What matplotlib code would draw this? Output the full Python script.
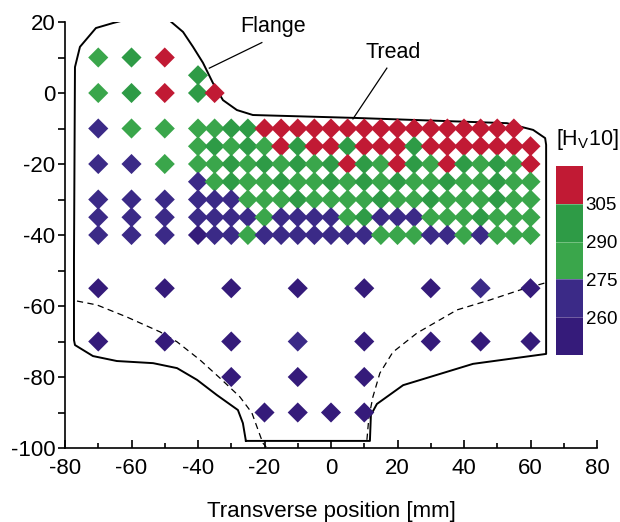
import matplotlib
matplotlib.use("Agg")
import matplotlib.pyplot as plt
import matplotlib as mpl
from matplotlib.colors import ListedColormap, BoundaryNorm
import numpy as np

plt.rcParams["font.family"] = ["Liberation Sans", "DejaVu Sans"]
plt.rcParams["mathtext.fontset"] = "custom"
plt.rcParams["mathtext.rm"] = "Liberation Sans"
plt.rcParams["mathtext.it"] = "Liberation Sans"
plt.rcParams["axes.unicode_minus"] = False

# hardness bands [HV10]
levels = [245, 260, 275, 290, 305, 320]
band_colors = ["#351b7a", "#3b2a87", "#3aa64b", "#2e9b46", "#c11a34"]
cbar_ticks = [260, 275, 290, 305]

# dense grid under the tread, x = -40 ... 60 step 5
dense_x = [-40, -35, -30, -25, -20, -15, -10, -5, 0, 5, 10,
           15, 20, 25, 30, 35, 40, 45, 50, 55, 60]
dense_rows = {
    -10: [283, 284, 297, 296, 312, 313, 311, 312, 314, 312, 311,
          312, 313, 312, 311, 312, 313, 312, 311, 312],
    -15: [283, 297, 284, 296, 283, 312, 297, 312, 311, 296, 312,
          313, 311, 297, 312, 311, 313, 312, 311, 312, 313],
    -20: [283, 284, 297, 283, 296, 284, 297, 283, 296, 312, 297,
          284, 312, 296, 283, 312, 297, 284, 296, 283, 312],
    -25: [268, 283, 296, 284, 283, 297, 283, 284, 296, 283, 297,
          283, 296, 284, 283, 297, 283, 284, 296, 283, 284],
    -30: [268, 267, 268, 283, 284, 283, 296, 283, 284, 283, 283,
          296, 283, 284, 297, 283, 284, 283, 296, 283, 284],
    -35: [268, 267, 268, 267, 283, 268, 267, 268, 267, 283, 296,
          268, 267, 268, 283, 284, 283, 296, 283, 284, 283],
    -40: [255, 268, 267, 283, 268, 267, 268, 267, 268, 267, 268,
          283, 284, 283, 268, 267, 283, 268, 283, 284, 283],
}

# scattered points (flange side and web)
sparse_x = [-70, -70, -70, -70, -70, -70, -70,
            -60, -60, -60, -60, -60, -60, -60,
            -50, -50, -50, -50, -50, -50, -50,
            -40, -40, -35,
            -70, -50, -30, -10, 10, 30, 45, 60,
            -70, -50, -30, -10, 10, 30, 45, 60,
            -30, -10, 10,
            -20, -10, 0, 10]
sparse_y = [10, 0, -10, -20, -30, -35, -40,
            10, 0, -10, -20, -30, -35, -40,
            10, 0, -10, -20, -30, -35, -40,
            5, 0, 0,
            -55, -55, -55, -55, -55, -55, -55, -55,
            -70, -70, -70, -70, -70, -70, -70, -70,
            -80, -80, -80,
            -90, -90, -90, -90]
sparse_hv = [283, 284, 268, 267, 268, 267, 268,
             297, 296, 283, 267, 268, 267, 268,
             312, 311, 284, 283, 268, 267, 268,
             297, 296, 312,
             258, 257, 258, 257, 258, 257, 266, 258,
             257, 258, 257, 266, 257, 258, 257, 258,
             257, 258, 257,
             258, 257, 258, 257]

# wheel profile outline
outline_x = [-25.6, -26.5, -28.0, -34.3, -40.3, -46.3, -53.5, -64.4, -71.6,
             -77.0, -77.3, -77.3, -77.0, -75.5, -70.7, -65.6, -59.8, -53.8,
             -48.4, -44.5, -41.5, -38.5, -35.5, -32.5, -28.3, -23.5, 6.6,
             52.9, 60.8, 64.4, 64.7, 64.7, 42.7, 21.7, 13.8, 12.0, 11.7, -25.6]
outline_y = [-98.0, -93.0, -89.3, -85.1, -80.8, -77.5, -76.1, -75.5, -74.1,
             -71.0, -69.6, -47.0, 7.3, 13.0, 18.3, 19.7, 21.1, 21.4,
             20.3, 17.2, 13.0, 8.5, 2.8, -2.0, -4.8, -6.2, -7.0,
             -8.5, -10.4, -12.7, -14.6, -73.5, -76.3, -82.3, -87.6, -90.7, -98.0, -98.0]

dash_left_x = [-76.4, -70.4, -61.4, -51.4, -46.3, -39.4, -33.4, -27.4, -23.8, -20.5, -19.5]
dash_left_y = [-58.6, -59.7, -63.1, -67.3, -70.1, -75.2, -80.3, -85.6, -90.1, -98.6, -99.7]
dash_right_x = [10.8, 11.4, 12.6, 14.7, 18.6, 25.9, 37.9, 47.8, 56.8, 64.4]
dash_right_y = [-97.7, -91.3, -85.6, -78.9, -73.0, -67.6, -61.1, -58.3, -55.5, -53.5]


def plot_hardness_map():
    fig = plt.figure(figsize=(6.2, 5.22), dpi=100)
    ax = fig.add_axes([65 / 620, 74 / 522, 532 / 620, 426 / 522])

    cmap = ListedColormap(band_colors)
    norm = BoundaryNorm(levels, cmap.N)

    # collect all measurement points
    xs = list(sparse_x)
    ys = list(sparse_y)
    hv = list(sparse_hv)
    for y, row in dense_rows.items():
        for x, v in zip(dense_x, row):
            xs.append(x)
            ys.append(y)
            hv.append(v)

    ax.plot(outline_x, outline_y, color="black", lw=1.4, zorder=1)
    ax.plot(dash_left_x, dash_left_y, color="black", lw=0.9, ls=(0, (5, 3.5)), zorder=1)
    ax.plot(dash_right_x, dash_right_y, color="black", lw=0.9, ls=(0, (5, 3.5)), zorder=1)

    ax.scatter(xs, ys, c=hv, cmap=cmap, norm=norm, marker="D", s=105,
               linewidths=0, zorder=3)

    # annotations
    ax.plot([-20.8, -36.6], [14.2, 7.0], color="black", lw=0.9)
    ax.text(-17.4, 18.6, "Flange", fontsize=15.5, ha="center", va="center")
    ax.plot([16.8, 6.6], [7.0, -7.3], color="black", lw=0.9)
    ax.text(18.6, 11.5, "Tread", fontsize=15.5, ha="center", va="center")

    ax.set_xlim(-80, 80)
    ax.set_ylim(-100, 20)
    ax.set_xticks(np.arange(-80, 81, 20))
    ax.set_xticks(np.arange(-70, 80, 20), minor=True)
    ax.set_yticks(np.arange(-100, 21, 20))
    ax.set_yticks(np.arange(-90, 20, 20), minor=True)
    ax.spines["top"].set_visible(False)
    ax.spines["right"].set_visible(False)
    ax.spines["left"].set_linewidth(1.2)
    ax.spines["bottom"].set_linewidth(1.2)
    ax.tick_params(axis="x", which="major", direction="in", length=6, width=1.2,
                   labelsize=16, pad=7)
    ax.tick_params(axis="x", which="minor", direction="in", length=3.5, width=1.2)
    ax.tick_params(axis="y", which="major", direction="out", length=5, width=1.2,
                   labelsize=16, pad=2)
    ax.tick_params(axis="y", which="minor", direction="out", length=5, width=1.2)
    ax.set_xlabel("Transverse position [mm]", fontsize=16, labelpad=16)

    # discrete colour key
    cax = fig.add_axes([556 / 620, 167 / 522, 27 / 620, 189 / 522])
    cb = mpl.colorbar.ColorbarBase(cax, cmap=cmap, norm=norm, boundaries=levels,
                                   ticks=cbar_ticks)
    cb.outline.set_visible(False)
    cax.minorticks_off()
    for lev in cbar_ticks:
        cax.axhline(lev, color="white", lw=0.6, alpha=0.35)
    cax.tick_params(which="both", length=0, labelsize=13.5, pad=2)
    fig.text(556 / 620, 370 / 522, r"[H$_\mathrm{V}$10]", fontsize=15.5,
             ha="left", va="bottom")

    fig.savefig("out.png", dpi=100)


if __name__ == "__main__":
    plot_hardness_map()
